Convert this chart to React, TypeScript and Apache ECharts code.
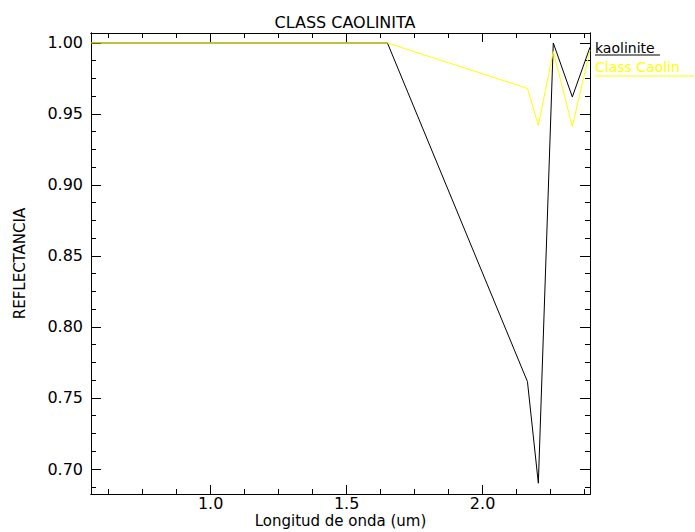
import React, { useEffect, useRef } from "react";
import * as echarts from "echarts";

// Band centres (um) and continuum-removed reflectance of each spectrum
const wavelengths = [0.56, 0.66, 0.81, 1.65, 2.165, 2.205, 2.26, 2.33, 2.395];
const kaolinite = [1.0, 1.0, 1.0, 1.0, 0.7615, 0.690, 1.0, 0.962, 0.997];
const classCaolin = [1.0, 1.0, 1.0, 1.0, 0.968, 0.942, 0.994, 0.941, 0.995];

const seriesNames = ["kaolinite", "Class Caolin"];
const seriesColors = ["#000000", "#ffff00"];

// Axis ranges and tick marks
const xRange = [0.56, 2.395];
const yRange = [0.6824, 1.007];
const xMajorTicks = [1.0, 1.5, 2.0];
const yMajorTicks = [0.7, 0.75, 0.8, 0.85, 0.9, 0.95, 1.0];
const xMinorStep = 0.125;
const yMinorStep = 0.0125;

const FONT = "DejaVu Sans";

function minorTicks(range: number[], majors: number[], step: number): number[] {
  const out: number[] = [];
  const start = Math.ceil((range[0] - 1e-9) / step);
  const end = Math.floor((range[1] + 1e-9) / step);
  for (let k = start; k <= end; k++) {
    const v = +(k * step).toFixed(6);
    if (!majors.some((m) => Math.abs(m - v) < 1e-6)) out.push(v);
  }
  return out;
}

export default function App() {
  const ref = useRef<HTMLDivElement>(null);

  useEffect(() => {
    if (!ref.current) return;
    const chart = echarts.init(ref.current, undefined, { renderer: "svg" });

    const xMinors = minorTicks(xRange, xMajorTicks, xMinorStep);
    const yMinors = minorTicks(yRange, yMajorTicks, yMinorStep);

    const lineStyle = { color: "#000", width: 1 };
    const baseX = (position: string, ticks: number[], len: number, labels: boolean, name?: string) => ({
      type: "value",
      position,
      min: xRange[0],
      max: xRange[1],
      name,
      nameLocation: "middle",
      nameGap: 20,
      nameMoveOverlap: false,
      nameTextStyle: { fontFamily: FONT, fontSize: 15, lineHeight: 14, color: "#000" },
      axisLine: { show: true, onZero: false, lineStyle },
      axisTick: { show: true, inside: true, length: len, customValues: ticks, lineStyle },
      axisLabel: {
        show: labels,
        customValues: ticks,
        margin: 3,
        fontFamily: FONT,
        fontSize: 16,
        lineHeight: 12,
        color: "#000",
        formatter: (v: number) => v.toFixed(1),
      },
      splitLine: { show: false },
    });
    const baseY = (position: string, ticks: number[], len: number, labels: boolean, name?: string) => ({
      type: "value",
      position,
      min: yRange[0],
      max: yRange[1],
      name,
      nameLocation: "middle",
      nameGap: 64,
      nameMoveOverlap: false,
      nameTextStyle: { fontFamily: FONT, fontSize: 15, color: "#000" },
      axisLine: { show: true, onZero: false, lineStyle },
      axisTick: { show: true, inside: true, length: len, customValues: ticks, lineStyle },
      axisLabel: {
        show: labels,
        customValues: ticks,
        margin: 8,
        fontFamily: FONT,
        fontSize: 16,
        color: "#000",
        formatter: (v: number) => v.toFixed(2),
      },
      splitLine: { show: false },
    });

    const series = [kaolinite, classCaolin].map((vals, i) => ({
      type: "line",
      name: seriesNames[i],
      xAxisIndex: 0,
      yAxisIndex: 0,
      showSymbol: false,
      lineStyle: { color: seriesColors[i], width: 1 },
      itemStyle: { color: seriesColors[i] },
      data: wavelengths.map((w, j) => [w, vals[j]]),
    }));

    chart.setOption({
      animation: false,
      backgroundColor: "#ffffff",
      title: {
        text: "CLASS CAOLINITA",
        left: 340,
        top: 9,
        textAlign: "center",
        textStyle: { fontFamily: FONT, fontSize: 16, fontWeight: "normal", color: "#000" },
      },
      grid: {
        left: 91,
        right: 105,
        top: 33,
        bottom: 38,
        containLabel: false,
        outerBoundsMode: "none",
      },
      xAxis: [
        baseX("bottom", xMajorTicks, 9, true, "Longitud de onda (um)"),
        baseX("bottom", xMinors, 5, false),
        baseX("top", xMajorTicks, 9, false),
        baseX("top", xMinors, 5, false),
      ],
      yAxis: [
        baseY("left", yMajorTicks, 10, true, "REFLECTANCIA"),
        baseY("left", yMinors, 5, false),
        baseY("right", yMajorTicks, 10, false),
        baseY("right", yMinors, 5, false),
      ],
      series,
      graphic: [
        {
          type: "text",
          left: 595,
          top: 41,
          style: { text: seriesNames[0], fill: seriesColors[0], font: `14px "${FONT}"` },
        },
        {
          type: "line",
          shape: { x1: 595, y1: 55, x2: 660, y2: 55 },
          style: { stroke: seriesColors[0], lineWidth: 1 },
        },
        {
          type: "text",
          left: 595,
          top: 60,
          style: { text: seriesNames[1], fill: seriesColors[1], font: `14px "${FONT}"` },
        },
        {
          type: "line",
          shape: { x1: 595, y1: 76, x2: 694, y2: 76 },
          style: { stroke: seriesColors[1], lineWidth: 1 },
        },
      ],
    });

    return () => chart.dispose();
  }, []);

  return (
    <div
      ref={ref}
      style={{ position: "fixed", left: 0, top: 0, width: 695, height: 532, background: "#fff" }}
    />
  );
}
